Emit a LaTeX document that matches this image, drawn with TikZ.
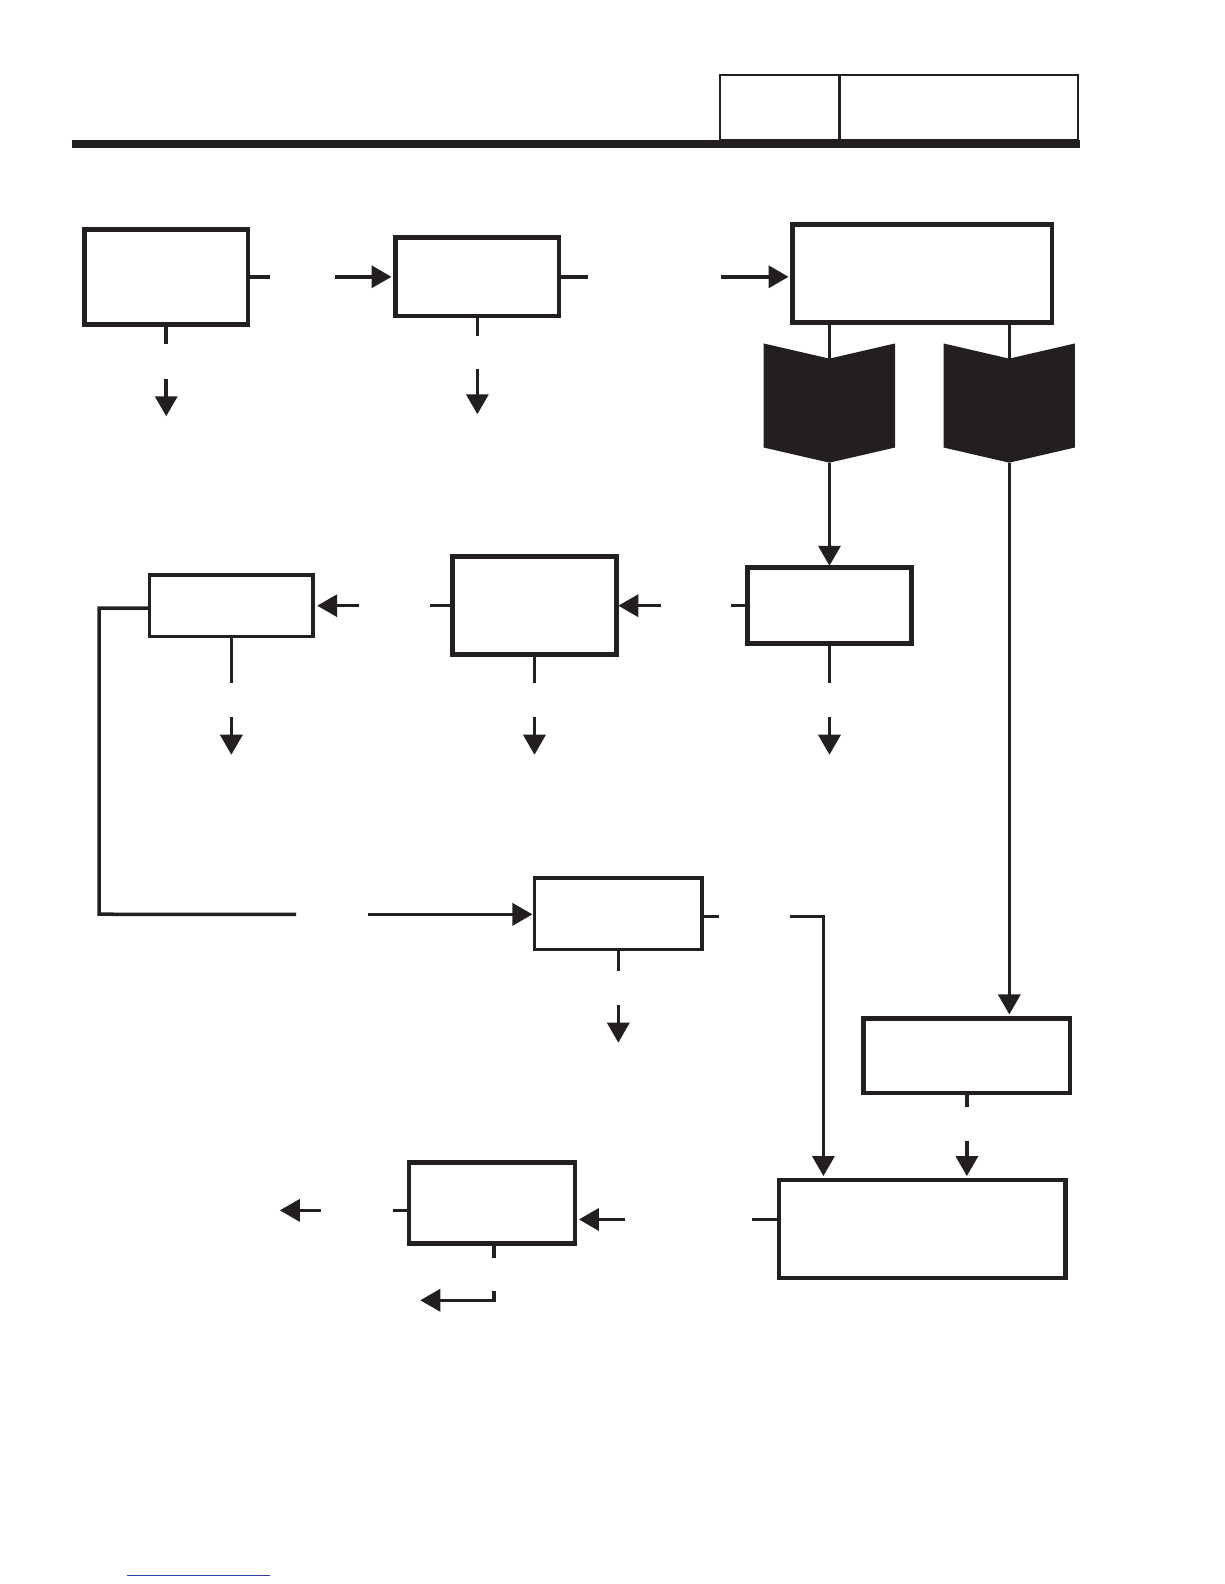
\documentclass[tikz,border=0pt]{standalone}
\usepackage{xcolor}
\definecolor{flowink}{HTML}{231F20}
\definecolor{flowlink}{HTML}{2A3FB0}
\usetikzlibrary{arrows.meta,positioning,shapes.symbols,calc}
\tikzset{
  flowbox/.style={draw=flowink,line width=2.3pt,fill=white,outer sep=0pt,inner sep=0pt},
  thinbox/.style={flowbox,line width=1.75pt},
  headcell/.style={draw=flowink,line width=1pt,outer sep=0pt,inner sep=0pt},
  bookmark/.style={signal,signal from=north,signal to=south,signal pointer angle=154,fill=flowink,
    minimum width=130pt,minimum height=88pt,inner sep=0pt,outer sep=0pt},
  wire/.style={draw=flowink,line width=1.75pt},
  flow/.style={wire,-{Triangle[length=10pt,width=11pt]},shorten >=2pt}
}
\begin{document}
\begin{tikzpicture}[x=1pt,y=-1pt,scale=0.50495,transform shape]
\useasboundingbox (0,0) rectangle (1212,1568);
\node[headcell,minimum width=118pt,minimum height=65pt] (cellA) at (772,106.5) {};
\node[headcell,minimum width=236pt,minimum height=65pt] (cellB) at (949,106.5) {};
\draw[draw=flowink,line width=1.4pt] (cellA.north east) -- (cellA.south east);
\coordinate (ruleL) at (71,142.5);
\coordinate (ruleR) at (1069,142.5);
\draw[draw=flowink,line width=3.7pt] (ruleL) -- (ruleR);

\node[flowbox,minimum width=162pt,minimum height=94pt] (boxA) at (164.5,274) {};
\node[flowbox,minimum width=162pt,minimum height=78pt] (boxB) at (472.5,274) {};
\node[flowbox,minimum width=257pt,minimum height=97pt] (boxC) at (913,270.5) {};
\node[thinbox,minimum width=162pt,minimum height=61pt] (boxD) at (229,599.5) {};
\node[flowbox,minimum width=162pt,minimum height=97pt] (boxE) at (529,599.5) {};
\node[flowbox,minimum width=162pt,minimum height=75pt] (boxF) at (821,599.5) {};
\node[thinbox,minimum width=166pt,minimum height=71pt] (boxG) at (612,904.5) {};
\node[flowbox,minimum width=204pt,minimum height=74pt] (boxH) at (957,1045) {};
\node[flowbox,minimum width=284pt,minimum height=97pt] (boxI) at (913,1216.5) {};
\node[flowbox,minimum width=164pt,minimum height=80pt] (boxJ) at (487,1191) {};
\node[bookmark] (bookL) at (821,399) {};
\node[bookmark] (bookR) at (999,399) {};

\coordinate (a1) at (267,274);
\coordinate (a2) at (332,274);
\coordinate (a3) at (164.5,340);
\coordinate (a4) at (164.5,375);
\coordinate (a5) at (164.5,416);
\draw[wire] (boxA.east) -- (a1);
\draw[flow] (a2) -- (boxB.west);
\draw[wire] (boxA.south) -- (a3);
\draw[flow] (a4) -- (a5);

\coordinate (b1) at (582,274);
\coordinate (b2) at (714,274);
\coordinate (b3) at (472.5,333);
\coordinate (b4) at (472.5,365);
\coordinate (b5) at (472.5,414);
\draw[wire] (boxB.east) -- (b1);
\draw[flow] (b2) -- (b2 -| boxC.west);
\draw[wire] (boxB.south) -- (b3);
\draw[flow] (b4) -- (b5);

\draw[wire] (boxC.south -| bookL.center) -- (bookL.north);
\draw[wire] (boxC.south -| bookR.center) -- (bookR.north);
\draw[flow,shorten >=1pt] (bookL.south) -- (boxF.north);
\draw[flow] (bookR.south) -- (bookR.south |- boxH.north);

\coordinate (f1) at (724,599.5);
\coordinate (f2) at (654,599.5);
\coordinate (f3) at (821,676);
\coordinate (f4) at (821,710);
\coordinate (f5) at (821,751);
\draw[wire] (boxF.west) -- (f1);
\draw[flow,shorten >=1pt] (f2) -- (boxE.east);
\draw[wire] (boxF.south) -- (f3);
\draw[flow] (f4) -- (f5);

\coordinate (e1) at (426,599.5);
\coordinate (e2) at (355,599.5);
\coordinate (e3) at (529,676);
\coordinate (e4) at (529,710);
\coordinate (e5) at (529,751);
\draw[wire] (boxE.west) -- (e1);
\draw[flow] (e2) -- (boxD.east);
\draw[wire] (boxE.south) -- (e3);
\draw[flow] (e4) -- (e5);

\coordinate (d1) at (148,602);
\coordinate (d2) at (293,905);
\coordinate (d3) at (364,905);
\coordinate (d4) at (229,676);
\coordinate (d5) at (229,710);
\coordinate (d6) at (229,751);
\draw[wire,line join=miter] (d1 -| boxD.west) -- (98,602) -- (98,905) -- (d2);
\draw[flow,shorten >=1pt] (d3) -- (d3 -| boxG.west);
\draw[wire] (boxD.south) -- (d4);
\draw[flow] (d5) -- (d6);

\coordinate (g1) at (712,907);
\coordinate (g2) at (782,907);
\coordinate (g3) at (815,907);
\coordinate (g4) at (612,961);
\coordinate (g5) at (612,995);
\coordinate (g6) at (612,1036);
\draw[wire] (g1 -| boxG.east) -- (g1);
\draw[flow] (g2) -- (g3) -- (g3 |- boxI.north);
\draw[wire] (boxG.south) -- (g4);
\draw[flow] (g5) -- (g6);

\coordinate (h1) at (957,1096);
\coordinate (h2) at (957,1129);
\draw[wire] (boxH.south) -- (h1);
\draw[flow] (h2) -- (h2 |- boxI.north);

\coordinate (i1) at (744,1207);
\coordinate (i2) at (619,1207);
\draw[wire] (i1 -| boxI.west) -- (i1);
\draw[flow] (i2) -- (i2 -| boxJ.east);

\coordinate (j1) at (389,1198);
\coordinate (j2) at (318,1198);
\coordinate (j3) at (273,1198);
\coordinate (j4) at (489,1245);
\coordinate (j5) at (489,1278);
\coordinate (j6) at (489,1287);
\coordinate (j7) at (412,1287);
\draw[wire] (j1 -| boxJ.west) -- (j1);
\draw[flow] (j2) -- (j3);
\draw[wire] (j4 |- boxJ.south) -- (j4);
\draw[flow] (j5) -- (j6) -- (j7);

\coordinate (linkL) at (126,1559);
\coordinate (linkR) at (267,1559);
\draw[draw=flowlink,line width=0.5pt] (linkL) -- (linkR);
\end{tikzpicture}
\end{document}
